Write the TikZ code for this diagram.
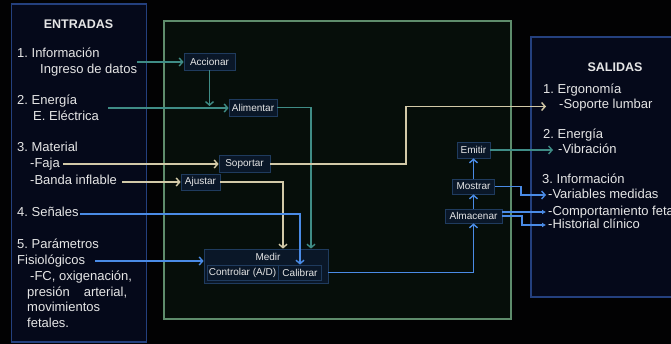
\documentclass[tikz,border=0pt]{standalone}
\usepackage{fontspec}
\setmainfont{Liberation Sans}
\usetikzlibrary{arrows.meta}
\frenchspacing
\definecolor{bgc}{HTML}{020203}
\definecolor{panelfill}{HTML}{05091A}
\definecolor{panelline}{HTML}{24407E}
\definecolor{greenfill}{HTML}{060E0A}
\definecolor{greenline}{HTML}{5E8C6C}
\definecolor{boxfill}{HTML}{0A1728}
\definecolor{boxline}{HTML}{1F3B5E}
\definecolor{txtc}{HTML}{E6E6E6}
\definecolor{cteal}{HTML}{3F8C86}
\definecolor{ctan}{HTML}{D2C9A8}
\definecolor{cblue}{HTML}{4A8BE6}
\tikzset{
  txt/.style={text=txtc, font=\fontsize{13}{16}\selectfont, inner sep=0pt, anchor=west, text height=9.5pt, text depth=2.5pt},
  ttl/.style={text=txtc, font=\fontsize{12.5}{15}\selectfont\bfseries, inner sep=0pt},
  fn/.style={draw=boxline, fill=boxfill, text=txtc, font=\fontsize{10}{12}\selectfont, inner sep=0pt, line width=0.8pt},
  panel/.style={draw=panelline, fill=panelfill, line width=1.3pt},
  arr/.style={line width=1.4pt, -{Straight Barb[length=3.5pt,width=8pt]}},
  arrs/.style={line width=1.4pt, -{Latex[length=4pt,width=5pt]}},
}
\begin{document}
\begin{tikzpicture}[x=1pt,y=-1pt]
\useasboundingbox (0,0) rectangle (671,344);
\fill[bgc] (0,0) rectangle (671,344);
% panels
\draw[panel] (11.5,4) rectangle (146.8,342);
\draw[draw=greenline, fill=greenfill, line width=1.2pt] (164,21) rectangle (511,319);
\draw[panel] (531,37) rectangle (680,297);

% ENTRADAS
\node[ttl] (ent) at (78.5,24) {ENTRADAS};
\node[txt] (e1) at (17,54) {1. Información};
\node[txt] (e1b) at (40,70) {Ingreso de datos};
\node[txt] (e2) at (17,101) {2. Energía};
\node[txt] (e2b) at (33,117) {E. Eléctrica};
\node[txt] (e3) at (17,148) {3. Material};
\node[txt] (faja) at (30,164) {-Faja};
\node[txt] (banda) at (30,181) {-Banda inflable};
\node[txt] (senales) at (17,213) {4. Señales};
\node[txt] (e5) at (17,245) {5. Parámetros};
\node[txt] (fisio) at (17,261) {Fisiológicos};
\node[txt] (e5b) at (30,277) {-FC, oxigenación,};
\node[txt] (e5c) at (27,293) {presión\hspace{14pt}arterial,};
\node[txt] (e5d) at (27,308) {movimientos};
\node[txt] (e5e) at (27,324) {fetales.};

% SALIDAS
\node[ttl] (sal) at (615,67) {SALIDAS};
\node[txt] (s1) at (543,90) {1. Ergonomía};
\node[txt] (lumbar) at (559,105) {-Soporte lumbar};
\node[txt] (s2) at (543,135) {2. Energía};
\node[txt] (vib) at (558,150) {-Vibración};
\node[txt] (s3) at (542,180) {3. Información};
\node[txt] (varmed) at (548,195) {-Variables medidas};
\node[txt] (comp) at (548,212) {-Comportamiento fetal};
\node[txt] (hist) at (548,225) {-Historial clínico};

% function boxes
\node[fn, minimum width=51pt, minimum height=17pt] (accionar) at (209.5,61.5) {Accionar};
\node[fn, minimum width=48pt, minimum height=17pt] (alimentar) at (253,107.5) {Alimentar};
\node[fn, minimum width=51pt, minimum height=17pt] (soportar) at (244.5,164) {Soportar};
\node[fn, minimum width=39pt, minimum height=16pt] (ajustar) at (200.5,182) {Ajustar};
\node[fn, minimum width=124pt, minimum height=34pt] (medir) at (266,266) {};
\node[text=txtc, font=\fontsize{10}{12}\selectfont, inner sep=0pt] (medirlbl) at (268,256.5) {Medir};
\node[fn, minimum width=71pt, minimum height=15pt] (controlar) at (242.5,272.5) {Controlar (A/D)};
\node[fn, minimum width=43pt, minimum height=15pt] (calibrar) at (300,272.5) {Calibrar};
\node[fn, minimum width=57pt, minimum height=14pt] (almacenar) at (473.5,216) {Almacenar};
\node[fn, minimum width=42pt, minimum height=15pt] (mostrar) at (473.5,186.5) {Mostrar};
\node[fn, minimum width=33pt, minimum height=16pt] (emitir) at (473.5,150) {Emitir};

% free ends
\coordinate (infoout) at (137,62);
\coordinate (enout) at (108,108);
\coordinate (fajaout) at (63,164);
\coordinate (bandaout) at (122,182);
\coordinate (senout) at (80,214);
\coordinate (fisout) at (95,261);
\coordinate (cturn) at (406,0);
\coordinate (jm) at (521,0);
\coordinate (ja) at (522,0);

% teal
\draw[cteal, arr] (infoout) -- (infoout -| accionar.west);
\draw[cteal, arr] (enout) -- (enout -| alimentar.west);
\draw[cteal, arr] (accionar.south) -- ([yshift=2pt]accionar.south |- enout);
\draw[cteal, arr] (alimentar.east) -| ([xshift=45pt]medir.north);
\draw[cteal, arr] (emitir.east) -- ([xshift=-5pt]vib.west);
% tan
\draw[ctan, arr] (fajaout) -- (soportar.west);
\draw[ctan, arr] (bandaout) -- (ajustar.west);
\draw[ctan, arr] (ajustar.east) -| ([xshift=17pt]medir.north);
\draw[ctan, arr] (soportar.east) -| ([yshift=-1.5pt]cturn |- lumbar.west) -- ([xshift=-13pt,yshift=-1.5pt]lumbar.west);
% blue
\draw[cblue, arr] (senout) -| (calibrar.north);
\draw[cblue, arr] (fisout) -- (fisout -| medir.west);
\draw[cblue, arr] (medir.east |- calibrar.east) -| (almacenar.south);
\draw[cblue, arr] (almacenar.north) -- (mostrar.south);
\draw[cblue, arr] (mostrar.north) -- (emitir.south);
\draw[cblue, arr] (mostrar.east) -| (jm |- varmed.west) -- ([xshift=-2pt]varmed.west);
\draw[cblue, arrs] ([yshift=4pt]almacenar.east) -- ([xshift=-2pt]comp.west);
\draw[cblue, arrs] (almacenar.east) -| (ja |- hist.west) -- ([xshift=-2pt]hist.west);
\end{tikzpicture}
\end{document}
